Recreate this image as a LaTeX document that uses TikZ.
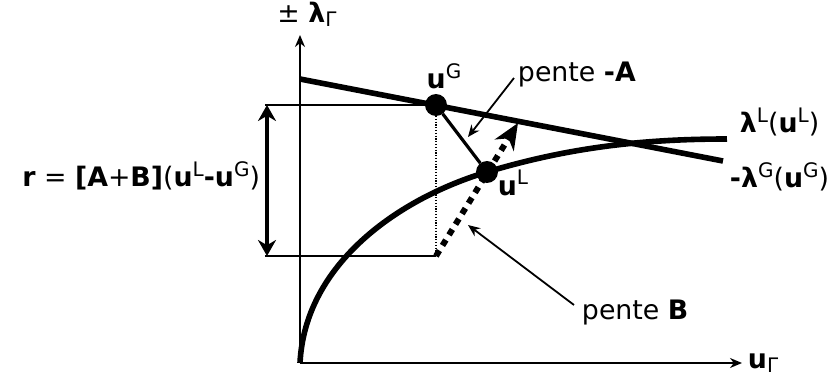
\documentclass[tikz,border=0pt]{standalone}
\usepackage{fontspec}
\setmainfont{DejaVu Sans}
\usetikzlibrary{arrows.meta}
\newcommand{\hi}[1]{\raisebox{0.7ex}{\fontsize{10}{11}\selectfont\mdseries #1}}
\newcommand{\lo}[1]{\raisebox{-0.3ex}{\fontsize{10}{11}\selectfont\mdseries #1}}
\begin{document}
\begin{tikzpicture}[x=0.5pt,y=0.5pt,
    every node/.style={inner sep=1pt,outer sep=0pt,font=\fontsize{13.4}{16}\selectfont},
    thinline/.style={line width=1pt},
    thickline/.style={line width=2.8pt},
    dotpt/.style={circle,fill,inner sep=0pt,minimum size=11pt},
    leader/.style={line width=0.9pt,-{Stealth[length=6pt,width=5pt]}},
    axis/.style={line width=1pt,-{Stealth[length=6pt,width=5pt]}}]
  \useasboundingbox (-300,-18) rectangle (532,363);
  \coordinate (o) at (0,0);
  \coordinate (ytop) at (0,328);
  \coordinate (xend) at (442,0);
  \draw[axis] (o)--(ytop);
  \draw[axis] (o)--(xend);
  \node[anchor=south] (ylab) at (7,334) {± \textbf{λ}\lo{Γ}};
  \node[anchor=west] (xlab) at ([xshift=2pt]xend) {\textbf{u}\lo{Γ}};
  \coordinate (gs) at (0,284);
  \coordinate (ge) at (423,202);
  \draw[thickline] (gs)--(ge);
  \node[dotpt] (ug) at (136,258) {};
  \node[dotpt] (ul) at (187,191) {};
  \coordinate (le) at (427,224);
  \draw[thickline] (o) .. controls (5,100) and (100,165) .. (ul.center)
    .. controls (267,215) and (340,224) .. (le);
  \node (ugl) at (144,287) {\textbf{u}\hi{G}};
  \node (ull) at (213,180) {\textbf{u}\hi{L}};
  \coordinate (c) at (136,107);
  \coordinate (top) at (-35,258);
  \coordinate (bot) at (-35,107);
  \draw[thinline] (top)--(ug);
  \draw[thinline] (bot)--(c);
  \draw[line width=0.8pt,dash pattern=on 0.6pt off 0.8pt] (ug)--(c);
  \draw[line width=1.6pt] (ug)--(ul);
  \draw[line width=2pt,{Stealth[length=8pt,width=9pt]}-{Stealth[length=8pt,width=9pt]}]
    ([xshift=1pt]top)--([xshift=1pt]bot);
  \node[anchor=east] (rlab) at (-38,187)
    {\textbf{r} = \textbf{[A}+\textbf{B]}(\textbf{u}\hi{L}\textbf{-u}\hi{G})};
  \coordinate (tip) at (218,240);
  \draw[line width=3pt,dash pattern=on 3.2pt off 3pt,
    -{Stealth[length=13pt,width=11pt,inset=4pt]}] (c)--(tip);
  \node[anchor=west] (lam) at (438,241) {\textbf{λ}\hi{L}(\textbf{u}\hi{L})};
  \node[anchor=west] (mlam) at (428,186) {\textbf{-λ}\hi{G}(\textbf{u}\hi{G})};
  \node[anchor=west] (pa) at (216,288) {pente \textbf{-A}};
  \node[anchor=west] (pb) at (280,50) {pente \textbf{B}};
  \coordinate (pat) at (168,226);
  \coordinate (pbt) at (168,138);
  \draw[leader] ([shift={(-2,-3)}]pa.west)--(pat);
  \draw[leader] ([shift={(-6,8)}]pb.west)--(pbt);
\end{tikzpicture}
\end{document}
